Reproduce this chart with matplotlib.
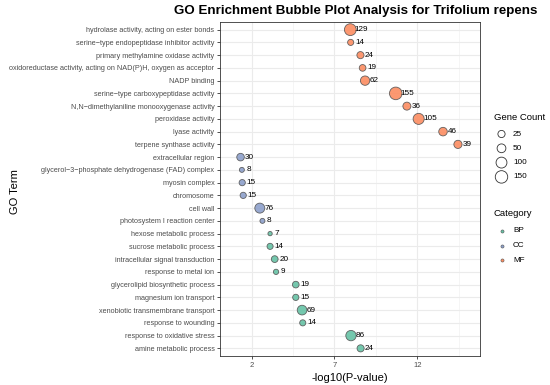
import numpy as np
import matplotlib
matplotlib.use("Agg")
import matplotlib.pyplot as plt

plt.rcParams['font.family'] = ['Liberation Sans', 'DejaVu Sans']

# GO terms, top to bottom
terms = [
    "hydrolase activity, acting on ester bonds",
    "serine\u2212type endopeptidase inhibitor activity",
    "primary methylamine oxidase activity",
    "oxidoreductase activity, acting on NAD(P)H, oxygen as acceptor",
    "NADP binding",
    "serine\u2212type carboxypeptidase activity",
    "N,N\u2212dimethylaniline monooxygenase activity",
    "peroxidase activity",
    "lyase activity",
    "terpene synthase activity",
    "extracellular region",
    "glycerol\u22123\u2212phosphate dehydrogenase (FAD) complex",
    "myosin complex",
    "chromosome",
    "cell wall",
    "photosystem I reaction center",
    "hexose metabolic process",
    "sucrose metabolic process",
    "intracellular signal transduction",
    "response to metal ion",
    "glycerolipid biosynthetic process",
    "magnesium ion transport",
    "xenobiotic transmembrane transport",
    "response to wounding",
    "response to oxidative stress",
    "amine metabolic process",
]
neg_log_p = [7.96, 7.98, 8.57, 8.70, 8.85, 10.70, 11.37, 12.08, 13.55, 14.45,
             1.34, 1.42, 1.44, 1.50, 2.50, 2.66, 3.12, 3.12, 3.40, 3.48,
             4.67, 4.67, 5.05, 5.09, 8.00, 8.58]
gene_count = [129, 14, 24, 19, 62, 155, 36, 105, 46, 39,
              30, 8, 15, 15, 76, 8, 7, 14, 20, 9,
              19, 15, 69, 14, 86, 24]
category = ["MF"] * 10 + ["CC"] * 6 + ["BP"] * 10

legend_counts = [25, 50, 100, 150]
cat_order = ["BP", "CC", "MF"]
cat_colors = {"BP": "#66C2A5", "CC": "#8DA0CB", "MF": "#FC8D62"}


def bubble_size(c, cmin=7, cmax=155, dmin=4.3, dmax=12.6):
    # ggplot-like area scaling, diameter in px -> points^2
    frac = np.clip((np.asarray(c, float) - cmin) / (cmax - cmin), 0, 1)
    d_px = dmin + (dmax - dmin) * np.sqrt(frac)
    return (d_px * 0.72) ** 2


fig = plt.figure(figsize=(5.5, 3.85), dpi=100)
ax = fig.add_axes([220 / 550, 29 / 385, 260 / 550, 334 / 385])

n = len(terms)
ypos = np.arange(n, 0, -1)
colors = [cat_colors[c] for c in category]

ax.scatter(neg_log_p, ypos, s=bubble_size(gene_count), c=colors, alpha=0.9,
           edgecolors="#555555", linewidths=0.6, zorder=3)
for x, y, c in zip(neg_log_p, ypos, gene_count):
    ax.annotate(str(c), (x, y), xytext=(3.2, 0), textcoords="offset points",
                ha="left", va="center", fontsize=5.9, color="black", zorder=4)

ax.set_xlim(0.1, 15.78)
ax.set_ylim(0.4, n + 0.6)
ax.set_xticks([2, 7, 12])
ax.set_xticks([4.5, 9.5, 14.5], minor=True)
ax.set_yticks(ypos)
ax.set_yticklabels(terms)
ax.tick_params(axis="both", which="major", labelsize=5.2, labelcolor="#4D4D4D",
               color="#333333", length=2.5, width=0.6, pad=1.5)
ax.tick_params(axis="x", which="major", labelsize=5.5)
ax.tick_params(axis="x", which="minor", length=0)
ax.grid(True, which="major", color="#EBEBEB", linewidth=0.8, zorder=0)
ax.grid(True, which="minor", axis="x", color="#F2F2F2", linewidth=0.5, zorder=0)
ax.set_axisbelow(True)
for sp in ax.spines.values():
    sp.set_color("#333333")
    sp.set_linewidth(0.6)

ax.set_xlabel("-log10(P-value)", fontsize=8, labelpad=3)
fig.text(15 / 550, 1 - 192 / 385, "GO Term", rotation=90, ha="center", va="center",
         fontsize=8)
fig.text(356 / 550, 1 - 11 / 385, "GO Enrichment Bubble Plot Analysis for Trifolium repens",
         ha="center", va="center", fontsize=9.6, fontweight="bold")

# legends drawn in pixel coordinates
lg = fig.add_axes([0, 0, 1, 1], facecolor="none")
lg.set_xlim(0, 550)
lg.set_ylim(385, 0)
lg.axis("off")

lg.text(494, 117, "Gene Count", fontsize=6.8, va="center", ha="left")
for i, c in enumerate(legend_counts):
    y = 134 + i * 14.3
    lg.scatter([501.5], [y], s=bubble_size(c), facecolors="none",
               edgecolors="#333333", linewidths=0.6)
    lg.text(513, y, str(c), fontsize=5.9, va="center", ha="left")

lg.text(494, 213, "Category", fontsize=6.8, va="center", ha="left")
for i, cat in enumerate(cat_order):
    y = 231 + i * 14.5
    lg.scatter([502], [y], s=5, c=cat_colors[cat], edgecolors="#555555", linewidths=0.4)
    lg.text(513, y, cat, fontsize=5.9, va="center", ha="left")

fig.savefig("out.png", dpi=100)
